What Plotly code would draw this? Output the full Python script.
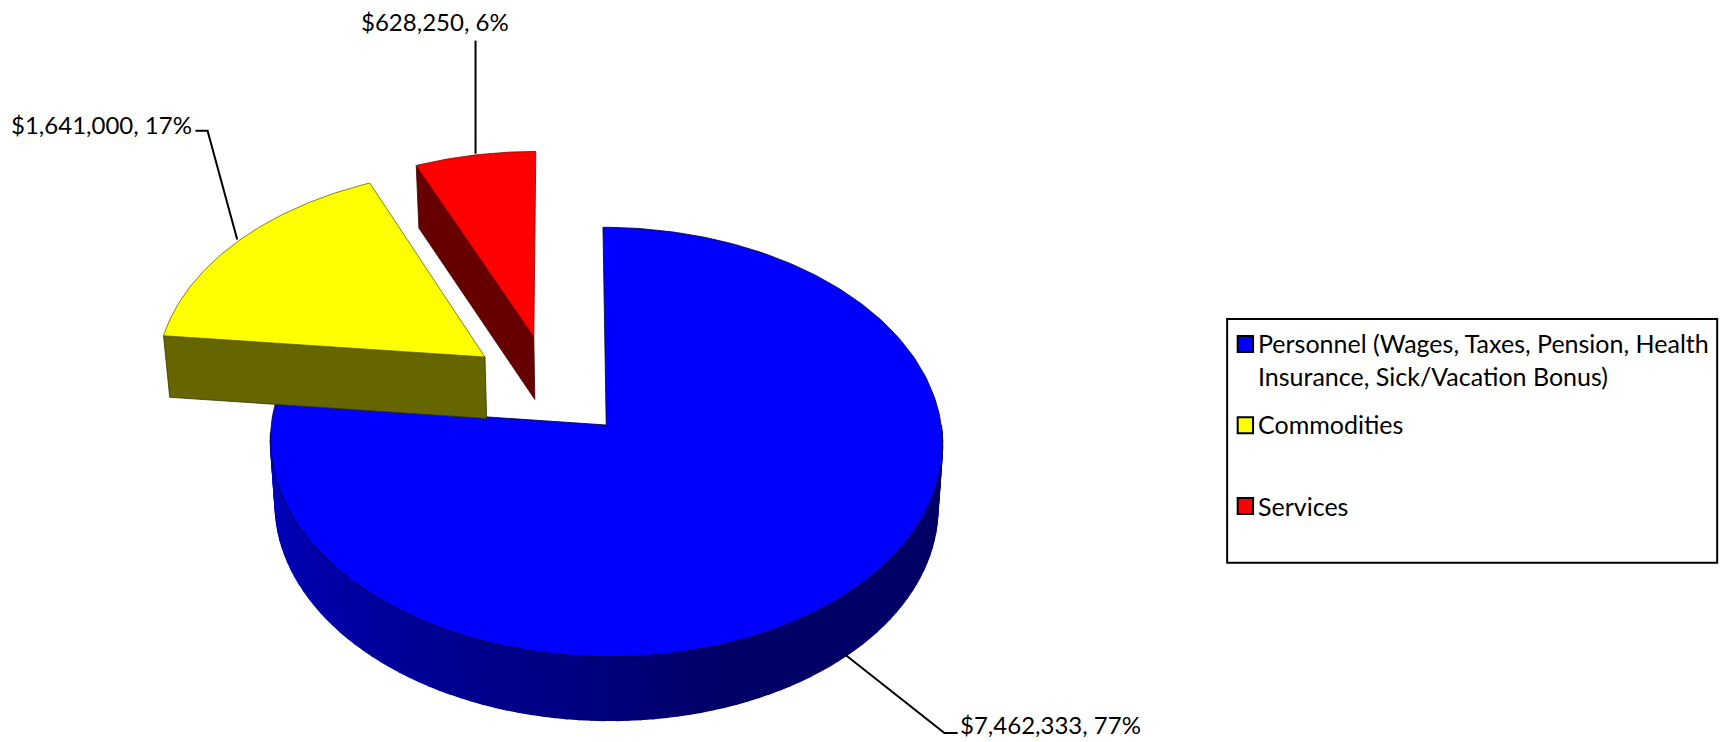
import numpy as np
import plotly.graph_objects as go

categories = ["Personnel (Wages, Taxes, Pension, Health<br>Insurance, Sick/Vacation Bonus)", "Commodities", "Services"]
values = [7462333, 1641000, 628250]
data_labels = ["$7,462,333, 77%", "$1,641,000, 17%", "$628,250, 6%"]
colors = ["#0000ff", "#ffff00", "#ff0000"]

# drawing constants (axes run over 1568 x 675.7 units)
X0, Y0 = 552.0, 387.0
A, B, C, K = 194.3, 305.0, 3.2, 0.0793
HEIGHTS = [58.0, 56.0, 57.0]
SHRINK = 0.986
OFFSETS = [(0.0, 0.0), (-0.368, -0.327), (-0.219, -0.427)]
FONT = "Lato"
FS_LEGEND = 25
FS_LABEL = 24


def project(u, v):
    w = 1.0 / (1.0 - K * v)
    return X0 + (B * u + C * v) * w, Y0 + A * v * w


def drop(x, y, h):
    return X0 + (x - X0) * SHRINK, y + h


def arc(t0, t1, off, n):
    t = np.radians(np.linspace(t0, t1, n))
    return project(np.sin(t) + off[0], -np.cos(t) + off[1])


fracs = np.array(values) / sum(values)
edges = np.concatenate([[0], np.cumsum(fracs) * 360])

fig = go.Figure()


def poly(xs, ys, fill, line=None, name=None, width=0.8):
    fig.add_trace(go.Scatter(
        x=list(xs), y=list(ys), mode="lines", fill="toself", fillcolor=fill,
        line=dict(color=line or fill, width=width), hoverinfo="skip" if name is None else "text",
        text=name, showlegend=False))


# blue outer wall with gradient
steps = np.linspace(90.0, 268.0, 91)
shade_t = [90, 130, 160, 185, 215, 245, 268]
shade_b = [0x66, 0x66, 0x66, 0x80, 0x98, 0xb0, 0xc4]
for a, b in zip(steps[:-1], steps[1:]):
    xa, ya = arc(a, b, OFFSETS[0], 4)
    xb, yb = drop(xa, ya, HEIGHTS[0])
    shade = int(np.interp((a + b) / 2, shade_t, shade_b))
    col = f"rgb(0,0,{shade})"
    poly(np.concatenate([xa, xb[::-1], xa[:1]]), np.concatenate([ya, yb[::-1], ya[:1]]), col, width=1.5)

# blue top
xa, ya = arc(edges[0], edges[1], OFFSETS[0], 240)
ax, ay = project(OFFSETS[0][0], OFFSETS[0][1])
poly(np.r_[ax, xa, ax], np.r_[ay, ya, ay], colors[0], "#000033", categories[0])

# yellow inner wall + top
off = OFFSETS[1]
ax, ay = project(off[0], off[1])
ex, ey = arc(edges[1], edges[1], off, 1)
bx, by = drop(np.r_[ex, ax], np.r_[ey, ay], HEIGHTS[1])
poly(np.r_[ex, ax, bx[1], bx[0], ex], np.r_[ey, ay, by[1], by[0], ey], "#666600", "#333300")
xa, ya = arc(edges[1], edges[2], off, 80)
poly(np.r_[ax, xa, ax], np.r_[ay, ya, ay], colors[1], "#666600", categories[1])

# red inner wall + top
off = OFFSETS[2]
ax, ay = project(off[0], off[1])
ex, ey = arc(edges[2], edges[2], off, 1)
bx, by = drop(np.r_[ex, ax], np.r_[ey, ay], HEIGHTS[2])
poly(np.r_[ex, ax, bx[1], bx[0], ex], np.r_[ey, ay, by[1], by[0], ey], "#660000", "#440000")
xa, ya = arc(edges[2], edges[3], off, 40)
poly(np.r_[ax, xa, ax], np.r_[ay, ya, ay], colors[2], "#880000", categories[2])

# leader lines
leaders = [
    ([770, 860, 872], [596.5, 667.5, 667.5]),
    ([216, 189, 178], [218, 119, 119]),
    ([433, 433], [140, 37]),
]
for lx, ly in leaders:
    fig.add_trace(go.Scatter(x=lx, y=ly, mode="lines", line=dict(color="black", width=2),
                             hoverinfo="skip", showlegend=False))

annotations = [
    dict(x=872, y=660, text=data_labels[0], xanchor="left", yanchor="middle", size=FS_LABEL),
    dict(x=177, y=113, text=data_labels[1], xanchor="right", yanchor="middle", size=FS_LABEL),
    dict(x=396.5, y=20, text=data_labels[2], xanchor="center", yanchor="middle", size=FS_LABEL),
    dict(x=1144, y=327.5, text=categories[0], xanchor="left", yanchor="middle", align="left", size=FS_LEGEND),
    dict(x=1144, y=386, text=categories[1], xanchor="left", yanchor="middle", size=FS_LEGEND),
    dict(x=1144, y=461, text=categories[2], xanchor="left", yanchor="middle", size=FS_LEGEND),
]
for a in annotations:
    s = a.pop("size")
    a.update(xref="x", yref="y", showarrow=False, font=dict(family=FONT, size=s, color="black"))

shapes = [dict(type="rect", xref="x", yref="y", x0=1117.4, x1=1563.6, y0=290.5, y1=512.4,
               line=dict(color="black", width=2), fillcolor="white", layer="below")]
for y0, c in zip([306, 380, 453.5], colors):
    shapes.append(dict(type="rect", xref="x", yref="y", x0=1127, x1=1141, y0=y0, y1=y0 + 14.5,
                       line=dict(color="black", width=2), fillcolor=c))

fig.update_layout(
    width=1722, height=742, margin=dict(l=0, r=0, t=0, b=0),
    paper_bgcolor="white", plot_bgcolor="white",
    xaxis=dict(range=[0, 1568], visible=False, fixedrange=True),
    yaxis=dict(range=[675.7, 0], visible=False, fixedrange=True),
    annotations=annotations, shapes=shapes, showlegend=False,
)
fig.write_html("out.html", config={"displayModeBar": False},
               post_script="document.body.style.margin='0';document.documentElement.style.overflow='hidden';")
